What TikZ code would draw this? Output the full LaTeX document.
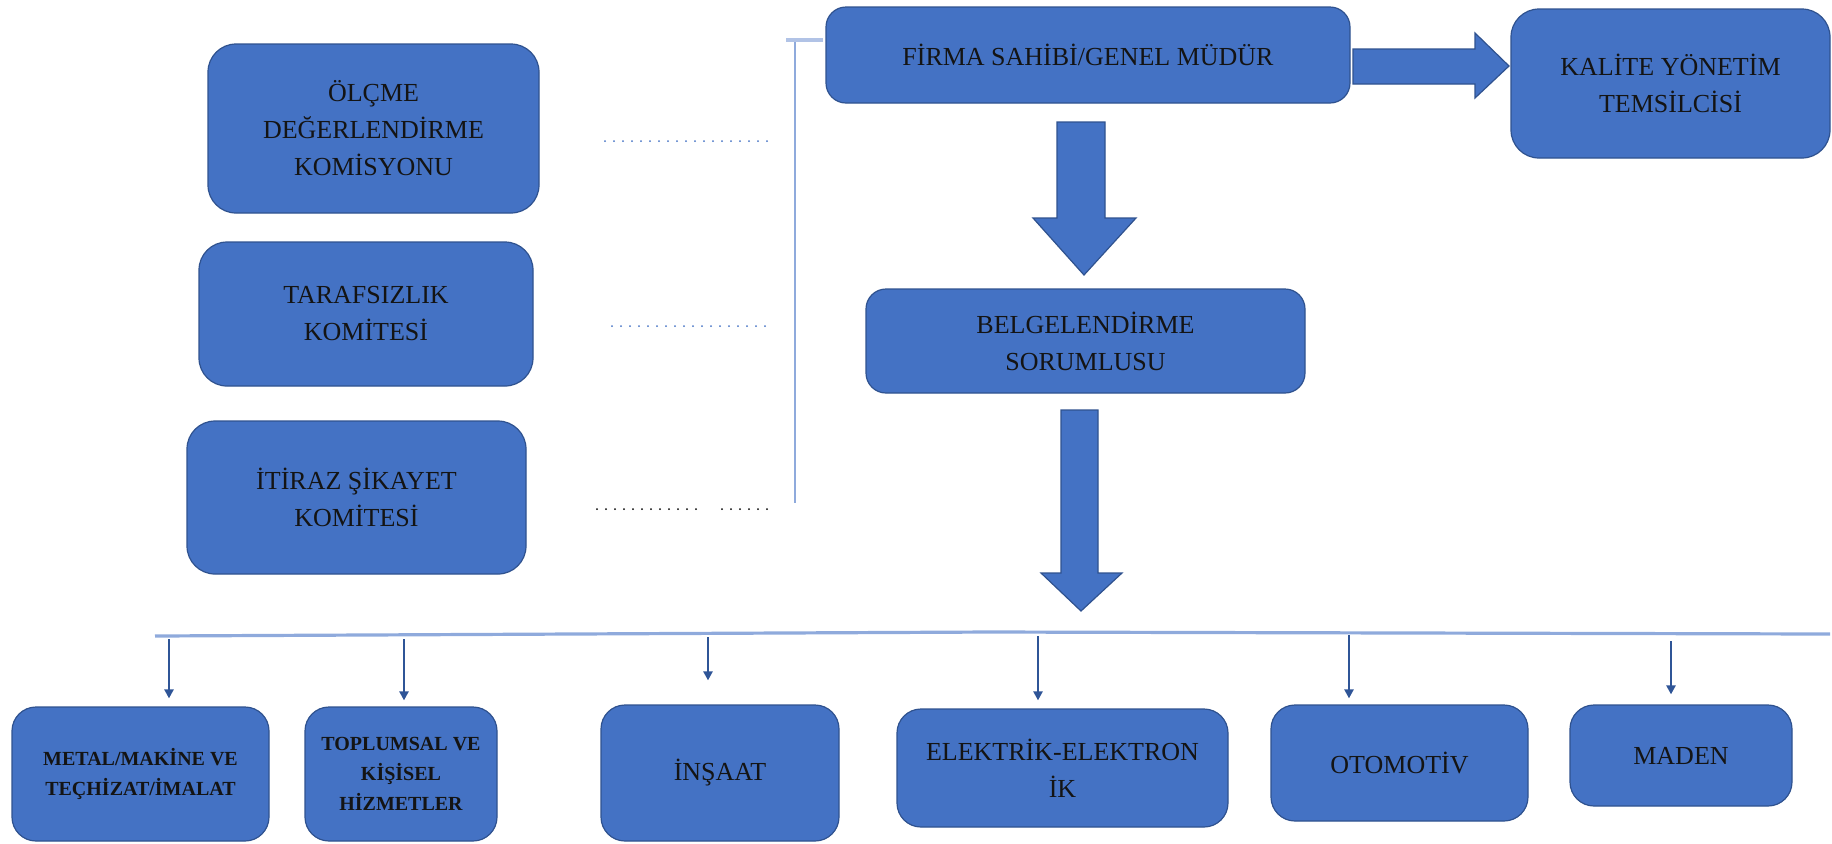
\documentclass[tikz,border=0pt]{standalone}
\usepackage{fontspec}
\setmainfont{Liberation Serif}
\usetikzlibrary{arrows.meta}
\definecolor{boxblue}{HTML}{4472C4}
\definecolor{boxedge}{HTML}{2F528F}
\definecolor{lineblue}{HTML}{8FAADC}
\definecolor{arrowblue}{HTML}{2F5597}
\definecolor{dotblue}{HTML}{4472C4}
\tikzset{
  box/.style={draw=boxedge, line width=0.6pt, fill=boxblue, inner sep=0pt, align=center, text=black!92},
  sized/.style 2 args={minimum width=#1*0.5pt, minimum height=#2*0.5pt},
  txt/.style={font=\fontsize{13}{18.5}\selectfont},
  btxt/.style={font=\bfseries\fontsize{10}{15}\selectfont},
  bigarrow/.style={fill=boxblue, draw=boxedge, line width=0.6pt, line join=miter},
  thinarrow/.style={draw=arrowblue, line width=1.3pt, -{Triangle[width=4.5pt,length=4.5pt]}},
  rail/.style={draw=lineblue, line width=1.6pt},
  dotline/.style={line width=1pt, line cap=round, dash pattern=on 0pt off 4.5pt}
}
\begin{document}
\begin{tikzpicture}[x=0.5pt,y=-0.5pt]
\useasboundingbox (0,0) rectangle (1832,843);

% left committee boxes
\node[box, txt, rounded corners=14pt, sized={331}{169}] (olcme) at (373.5,128.5) {ÖLÇME\\DEĞERLENDİRME\\KOMİSYONU};
\node[box, txt, rounded corners=14pt, sized={334}{144}] (taraf) at (366,314) {TARAFSIZLIK\\KOMİTESİ};
\node[box, txt, rounded corners=14pt, sized={339}{153}] (itiraz) at (356.5,497.5) {İTİRAZ ŞİKAYET\\KOMİTESİ};

% top boxes
\node[box, txt, rounded corners=10pt, sized={524}{96}] (firma) at (1088,55) {FİRMA SAHİBİ/GENEL MÜDÜR};
\node[box, txt, rounded corners=14pt, sized={319}{149}] (kalite) at (1670.5,83.5) {KALİTE YÖNETİM\\TEMSİLCİSİ};
\node[box, txt, rounded corners=10pt, sized={439}{104}] (belg) at (1085.5,341) {BELGELENDİRME\\SORUMLUSU};

% bottom boxes
\node[box, btxt, rounded corners=12pt, sized={257}{134}] (metal) at (140.5,774) {METAL/MAKİNE VE\\TEÇHİZAT/İMALAT};
\node[box, btxt, rounded corners=12pt, sized={192}{134}] (toplum) at (401,774) {TOPLUMSAL VE\\KİŞİSEL\\HİZMETLER};
\node[box, txt, rounded corners=12pt, sized={238}{136}] (insaat) at (720,773) {İNŞAAT};
\node[box, txt, rounded corners=12pt, sized={331}{118}] (elek) at (1062.5,768) {ELEKTRİK-ELEKTRON\\İK};
\node[box, txt, rounded corners=12pt, sized={257}{116}] (otomotiv) at (1399.5,763) {OTOMOTİV};
\node[box, txt, rounded corners=12pt, sized={222}{101}] (maden) at (1681,755.5) {MADEN};

% big block arrows
\draw[bigarrow] (1353,49) -- (1475,49) -- (1475,33) -- (1509,66) -- (1475,98) -- (1475,84) -- (1353,84) -- cycle;
\draw[bigarrow] (1057,122) -- (1105,122) -- (1105,218) -- (1136,218) -- (1084,275) -- (1033,218) -- (1057,218) -- cycle;
\draw[bigarrow] (1061,410) -- (1098,410) -- (1098,573) -- (1122,573) -- (1081,611) -- (1041,573) -- (1061,573) -- cycle;

% left bracket line
\coordinate (vt) at (795,42);
\coordinate (vb) at (795,503);
\coordinate (tk) at (823,40);
\draw[rail, line width=1.4pt] (vt) -- (vb);
\draw[rail, draw=lineblue!70, line width=1.8pt] (786,40) -- (tk);

% dotted leaders
\draw[dotline, draw=dotblue] (605,141) -- (773,141);
\draw[dotline, draw=dotblue] (612,326) -- (771,326);
\draw[dotline, draw=black] (597,509) -- (700,509);
\draw[dotline, draw=black] (722,509) -- (771,509);

% distribution rail
\coordinate (rl) at (155,636);
\coordinate (rr) at (1830,634);
\draw[rail] (rl) -- (990,632) -- (rr);

% thin arrows
\coordinate (t1) at (169,639);
\coordinate (t2) at (404,639);
\coordinate (t3) at (708,637);
\coordinate (t4) at (1038,636);
\coordinate (t5) at (1349,635);
\coordinate (t6) at (1671,641);
\draw[thinarrow, shorten >=4pt] (t1) -- (t1 |- metal.north);
\draw[thinarrow, shorten >=3pt] (t2) -- (t2 |- toplum.north);
\draw[thinarrow, shorten >=12pt] (t3) -- (t3 |- insaat.north);
\draw[thinarrow, shorten >=4pt] (t4) -- (t4 |- elek.north);
\draw[thinarrow, shorten >=3pt] (t5) -- (t5 |- otomotiv.north);
\draw[thinarrow, shorten >=5pt] (t6) -- (t6 |- maden.north);
\end{tikzpicture}
\end{document}
